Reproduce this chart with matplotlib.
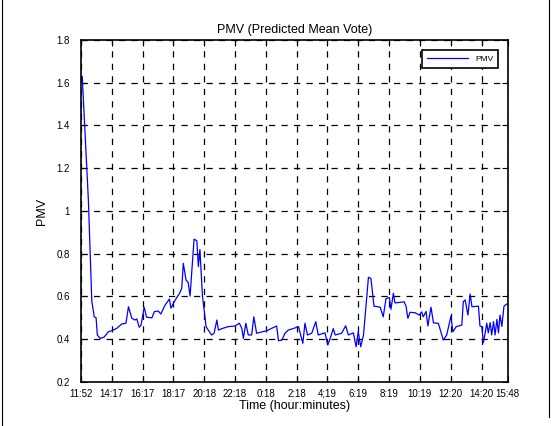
import matplotlib.pyplot as plt
from matplotlib.lines import Line2D

plt.rcParams['font.family'] = ['Liberation Sans', 'DejaVu Sans']

# tick labels (equally spaced, samples not proportional to time)
tick_labels = ['11:52', '14:17', '16:17', '18:17', '20:18', '22:18', '0:18',
               '2:18', '4;19', '6:19', '8:19', '10:19', '12:20', '14:20', '15:48']
tick_pos = [0, 1, 2, 3, 4, 5, 6, 7, 8, 9, 10, 11, 12, 13, 13.85]

# position along the time axis (tick units) and PMV value
t = [0.04, 0.24, 0.35, 0.43, 0.49, 0.53, 0.62, 0.75, 0.89, 1.00,
     1.16, 1.32, 1.46, 1.54, 1.65, 1.75, 1.81, 1.89, 1.95, 2.05,
     2.13, 2.30, 2.38, 2.51, 2.59, 2.73, 2.87, 2.92, 3.00, 3.11,
     3.19, 3.27, 3.32, 3.41, 3.48, 3.54, 3.67, 3.76, 3.81, 3.86,
     3.94, 4.06, 4.13, 4.24, 4.32, 4.41, 4.46, 4.60, 4.78, 5.00,
     5.14, 5.22, 5.27, 5.35, 5.43, 5.54, 5.61, 5.70, 6.03, 6.35,
     6.41, 6.52, 6.62, 6.73, 6.89, 7.06, 7.13, 7.20, 7.27, 7.35,
     7.49, 7.62, 7.70, 7.92, 8.01, 8.08, 8.19, 8.25, 8.46, 8.59,
     8.68, 8.84, 8.93, 9.00, 9.08, 9.17, 9.22, 9.33, 9.41, 9.51,
     9.71, 9.81, 9.90, 10.01, 10.06, 10.14, 10.19, 10.33, 10.49, 10.55,
     10.61, 10.68, 10.84, 10.98, 11.06, 11.11, 11.20, 11.26, 11.36, 11.44,
     11.60, 11.76, 11.87, 12.01, 12.07, 12.18, 12.36, 12.41, 12.47, 12.56,
     12.63, 12.69, 12.90, 12.95, 13.01, 13.06, 13.12, 13.17, 13.22, 13.28,
     13.33, 13.39, 13.44, 13.50, 13.55, 13.60, 13.66, 13.73, 13.82, 13.85]
pmv = [1.63, 1.05, 0.58, 0.505, 0.50, 0.42, 0.404, 0.41, 0.435, 0.44,
       0.451, 0.471, 0.475, 0.552, 0.498, 0.49, 0.495, 0.456, 0.466, 0.55,
       0.503, 0.50, 0.529, 0.532, 0.518, 0.56, 0.588, 0.545, 0.568, 0.596,
       0.612, 0.638, 0.755, 0.677, 0.665, 0.602, 0.868, 0.861, 0.74, 0.82,
       0.607, 0.459, 0.443, 0.42, 0.428, 0.49, 0.443, 0.451, 0.459, 0.462,
       0.475, 0.451, 0.404, 0.475, 0.42, 0.42, 0.505, 0.428, 0.44, 0.462,
       0.393, 0.396, 0.428, 0.443, 0.45, 0.459, 0.42, 0.381, 0.475, 0.42,
       0.428, 0.482, 0.42, 0.43, 0.373, 0.40, 0.45, 0.42, 0.428, 0.463,
       0.42, 0.43, 0.365, 0.435, 0.365, 0.42, 0.505, 0.69, 0.685, 0.555,
       0.55, 0.505, 0.59, 0.595, 0.54, 0.615, 0.57, 0.572, 0.575, 0.555,
       0.498, 0.526, 0.524, 0.513, 0.528, 0.505, 0.53, 0.462, 0.55, 0.477,
       0.474, 0.396, 0.42, 0.509, 0.435, 0.459, 0.466, 0.576, 0.584, 0.513,
       0.612, 0.552, 0.555, 0.462, 0.459, 0.384, 0.43, 0.475, 0.43, 0.478,
       0.42, 0.482, 0.42, 0.493, 0.43, 0.513, 0.46, 0.555, 0.565, 0.565]

fig = plt.figure(figsize=(5.51, 4.26), dpi=100)
ax = fig.add_axes([0.147, 0.1033, 0.7744, 0.8028])

ax.plot(t, pmv, color='#0000ff', lw=0.9, label='PMV')

ax.set_xlim(0, 13.85)
ax.set_ylim(0.2, 1.8)
ax.set_xticks(tick_pos)
ax.set_xticklabels(tick_labels)
ax.set_yticks([0.2, 0.4, 0.6, 0.8, 1.0, 1.2, 1.4, 1.6, 1.8])
ax.set_yticklabels(['0.2', '0.4', '0.6', '0.8', '1', '1.2', '1.4', '1.6', '1.8'])
ax.tick_params(direction='in', length=4, labelsize=7, top=True, right=True)
ax.tick_params(axis='x', pad=5)
ax.tick_params(axis='y', pad=8)

ax.grid(True, color='black', linestyle=(0, (5, 5)), linewidth=0.9)
for s in ax.spines.values():
    s.set_linewidth(1.2)

ax.set_title('PMV (Predicted Mean Vote)', fontsize=9, pad=5)
ax.set_xlabel('Time (hour:minutes)', fontsize=9, labelpad=1)
ax.set_ylabel('PMV', fontsize=9, labelpad=6)

leg = ax.legend(loc='upper right', fontsize=6, frameon=True, fancybox=False,
                borderpad=0.6, handlelength=5, bbox_to_anchor=(0.988, 0.982))
leg.get_frame().set_edgecolor('black')
leg.get_frame().set_linewidth(1.2)
leg.get_frame().set_alpha(1)

# outer frame of the figure
for xs, ys in [([0.003, 0.003], [0, 1]), ([0.997, 0.997], [0.02, 1])]:
    fig.add_artist(Line2D(xs, ys, transform=fig.transFigure, color='black', lw=0.8))

fig.savefig('out.png', dpi=100)
